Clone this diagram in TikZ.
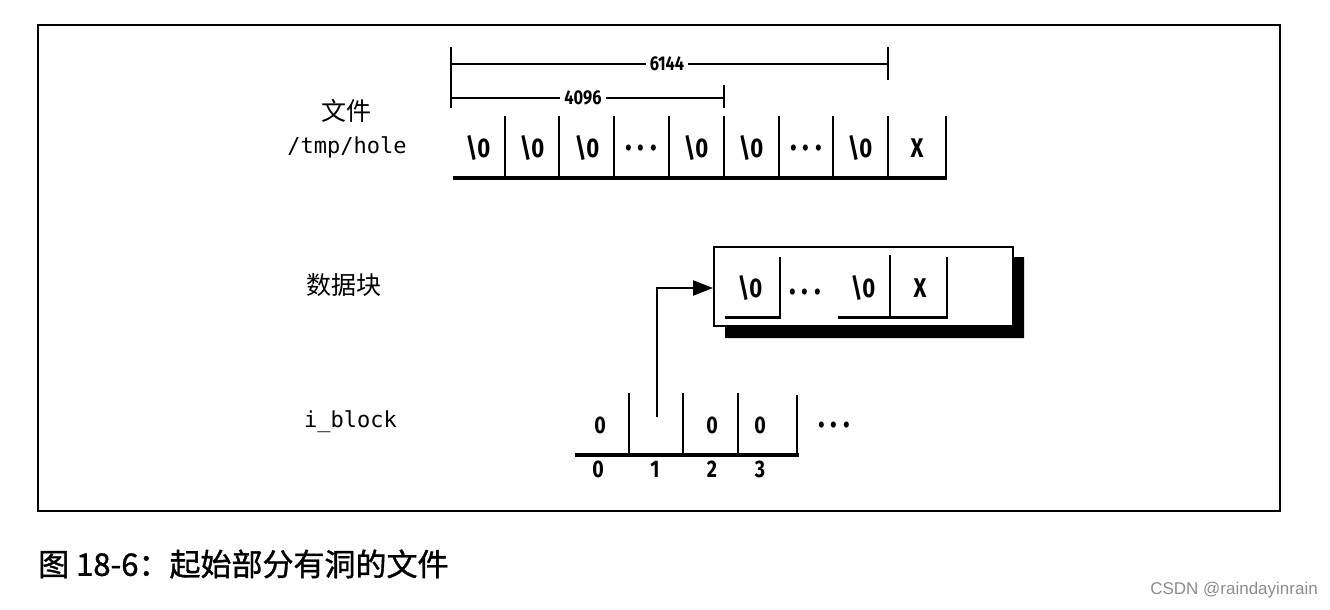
\documentclass[tikz,border=0pt]{standalone}
\usepackage{fontspec}
\usetikzlibrary{arrows.meta}
\newfontfamily\cellfont{Fira Sans}[FakeStretch=0.82]
\newfontfamily\monof{DejaVu Sans Mono}
\newfontfamily\cjk{Noto Sans CJK SC}
\newfontfamily\capfont{Noto Sans CJK SC}[FakeBold=1.2]
\newfontfamily\wmfont{Liberation Sans}
\begin{document}
\begin{tikzpicture}[x=1pt,y=-1pt,
  frame/.style={line width=1.8pt},
  cellv/.style={line width=1.8pt},
  base/.style={line width=4pt},
  dim/.style={line width=1.3pt},
  celltxt/.style={font=\cellfont\bfseries\fontsize{27}{27}\selectfont, inner sep=0pt},
  dotstxt/.style={font=\cellfont\bfseries\fontsize{34}{34}\selectfont, inner sep=0pt},
  dimtxt/.style={font=\cellfont\bfseries\fontsize{20}{20}\selectfont, fill=white, inner xsep=4pt, inner ysep=0pt},
  idxtxt/.style={font=\cellfont\bfseries\fontsize{24}{24}\selectfont, inner sep=0pt},
  lbl/.style={font=\fontsize{22}{26}\selectfont, inner sep=0pt, align=center},
  arrowline/.style={line width=2.4pt, -{Triangle[length=20pt,width=15pt]}}
]
\useasboundingbox (0,0) rectangle (1330,610);
% outer frame
\node[frame, draw, minimum width=1242pt, minimum height=486pt, inner sep=0pt, anchor=north west] (frame) at (37,24) {};

% labels
\node[lbl, font=\cjk\fontsize{25}{25}\selectfont] (lfile) at (346,111) {文件};
\node[lbl, font=\monof\fontsize{22}{22}\selectfont] (lpath) at (347,147) {/tmp/hole};
\node[lbl, font=\cjk\fontsize{25}{25}\selectfont, anchor=west] (ldata) at (306,285) {数据块};
\node[lbl, font=\monof\fontsize{22}{22}\selectfont, anchor=west] (liblock) at (304,422) {i\_block};

% dimension lines
\draw[dim] (451,47) -- (451,108);
\draw[dim] (888,47) -- (888,80);
\draw[dim] (724,85) -- (724,108);
\node[dimtxt] (d6144) at (667,64) {6144};
\node[dimtxt] (d4096) at (583,98) {4096};
\draw[dim] (451,64) -- (d6144.west);
\draw[dim] (d6144.east) -- (888,64);
\draw[dim] (451,98) -- (d4096.west);
\draw[dim] (d4096.east) -- (724,98);

% top array
\draw[base] (453,178) -- (947,178);
\foreach \xx in {505,559,614,669,724,779,833,888,946}
  \draw[cellv] (\xx,116) -- (\xx,178);
\node[celltxt] (t1) at (478,148) {\textbackslash 0};
\node[celltxt] (t2) at (532,148) {\textbackslash 0};
\node[celltxt] (t3) at (587,148) {\textbackslash 0};
\node[dotstxt] (t4) at (641,152) {·\,·\,·};
\node[celltxt] (t5) at (696,148) {\textbackslash 0};
\node[celltxt] (t6) at (751,148) {\textbackslash 0};
\node[dotstxt] (t7) at (806,152) {·\,·\,·};
\node[celltxt] (t8) at (860,148) {\textbackslash 0};
\node[celltxt] (t9) at (917,148) {X};

% data block
\fill (1012,257) -- (1024,257) -- (1024,338) -- (725,338) -- (725,325) -- (1012,325) -- cycle;
\node[draw, line width=2pt, fill=white, minimum width=299pt, minimum height=79pt, inner sep=0pt, anchor=north west] (dbox) at (713,246) {};
\draw[cellv] (780,257) -- (780,318);
\draw[line width=3pt] (725,317) -- (781,317);
\draw[cellv] (890,255) -- (890,317);
\draw[cellv] (947,257) -- (947,318);
\draw[line width=3pt] (838,317) -- (948,317);
\node[celltxt] (b1) at (750,288) {\textbackslash 0};
\node[dotstxt] (b2) at (805,296) {·\,·\,·};
\node[celltxt] (b3) at (863,288) {\textbackslash 0};
\node[celltxt] (b4) at (920,288) {X};

% i_block array
\draw[base] (575,455) -- (799,455);
\foreach \xx in {629,683,738}
  \draw[cellv] (\xx,393) -- (\xx,455);
\draw[line width=2.6pt] (797,395) -- (797,457);
\node[idxtxt] (i0) at (600,425) {0};
\node[idxtxt] (i2) at (712,425) {0};
\node[idxtxt] (i3) at (760,425) {0};
\node[dotstxt] (idots) at (834,429) {·\,·\,·};
\node[idxtxt] (n0) at (598,469) {0};
\node[idxtxt] (n1) at (655,469) {1};
\node[idxtxt] (n2) at (712,469) {2};
\node[idxtxt] (n3) at (760,469) {3};

% pointer arrow
\coordinate (ib1) at (657,417);
\coordinate (dbin) at (713,288);
\draw[arrowline] (ib1) |- (dbin);

% caption
\node[anchor=west, inner sep=0pt, font=\capfont\fontsize{31}{31}\selectfont] (cap) at (38,564) {图 18-6：起始部分有洞的文件};
\node[anchor=east, inner sep=0pt, text=black!45, font=\wmfont\fontsize{17}{17}\selectfont] (wm) at (1318,590) {CSDN @raindayinrain};
\end{tikzpicture}
\end{document}
